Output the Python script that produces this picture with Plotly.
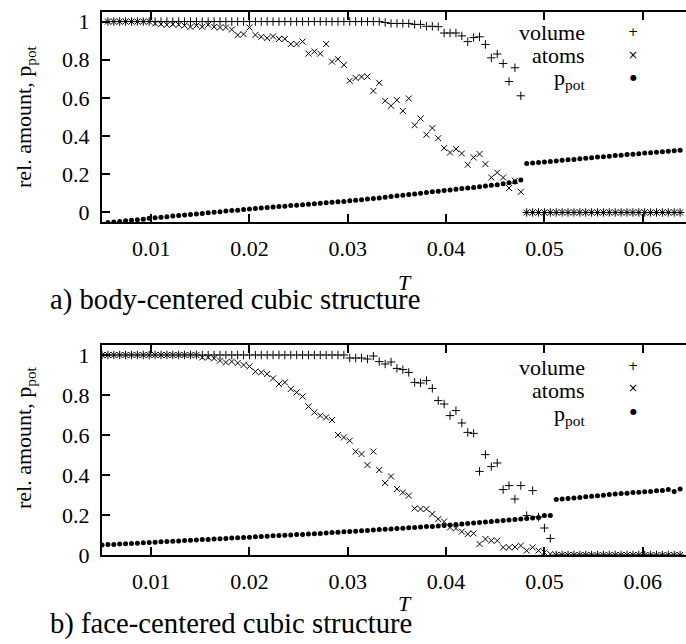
import plotly.graph_objects as go

# Temperature grid (x values)
T_grid = [
    0.0050, 0.0056, 0.0062, 0.0068, 0.0074, 0.0080, 0.0086, 0.0092, 0.0098, 0.0104,
    0.0110, 0.0116, 0.0122, 0.0128, 0.0134, 0.0140, 0.0146, 0.0152, 0.0158, 0.0164,
    0.0170, 0.0176, 0.0182, 0.0188, 0.0194, 0.0200, 0.0206, 0.0212, 0.0218, 0.0224,
    0.0230, 0.0236, 0.0242, 0.0248, 0.0254, 0.0260, 0.0266, 0.0272, 0.0278, 0.0284,
    0.0290, 0.0296, 0.0302, 0.0308, 0.0314, 0.0320, 0.0326, 0.0332, 0.0338, 0.0344,
    0.0350, 0.0356, 0.0362, 0.0368, 0.0374, 0.0380, 0.0386, 0.0392, 0.0398, 0.0404,
    0.0410, 0.0416, 0.0422, 0.0428, 0.0434, 0.0440, 0.0446, 0.0452, 0.0458, 0.0464,
    0.0470, 0.0476, 0.0482, 0.0488, 0.0494, 0.0500, 0.0506, 0.0512, 0.0518, 0.0524,
    0.0530, 0.0536, 0.0542, 0.0548, 0.0554, 0.0560, 0.0566, 0.0572, 0.0578, 0.0584,
    0.0590, 0.0596, 0.0602, 0.0608, 0.0614, 0.0620, 0.0626, 0.0632, 0.0638,
]
T_bcc = T_grid[1:]
T_fcc = T_grid

# a) body-centered cubic
volume_bcc = [1.0] * 47 + [
    0.995, 0.99, 0.99, 0.99, 0.99, 0.985, 0.985, 0.975, 0.975, 0.973,
    0.94, 0.94, 0.94, 0.925, 0.895, 0.916, 0.92, 0.88, 0.81, 0.83,
    0.78, 0.686, 0.758, 0.611,
] + [0.0] * 27
atoms_bcc = [1.0] * 8 + [
    0.990, 0.986, 0.983, 0.986, 0.983, 0.979, 0.972, 0.979, 0.972, 0.983,
    0.972, 0.969, 0.969, 0.958, 0.929, 0.934, 0.969, 0.930, 0.920, 0.913,
    0.922, 0.909, 0.909, 0.882, 0.882, 0.895, 0.832, 0.843, 0.832, 0.882,
    0.790, 0.803, 0.773, 0.690, 0.704, 0.710, 0.712, 0.637, 0.679, 0.585,
    0.559, 0.588, 0.532, 0.597, 0.457, 0.492, 0.407, 0.442, 0.389, 0.337,
    0.314, 0.332, 0.309, 0.250, 0.288, 0.306, 0.253, 0.183, 0.209, 0.183,
    0.128, 0.166, 0.108,
] + [0.0] * 27
ppot_bcc = [
    -0.053, -0.050, -0.047, -0.044, -0.041, -0.038, -0.035, -0.031, -0.028, -0.025,
    -0.022, -0.019, -0.016, -0.013, -0.011, -0.008, -0.005, -0.002, 0.001, 0.004,
    0.007, 0.010, 0.012, 0.015, 0.018, 0.021, 0.023, 0.026, 0.028, 0.031,
    0.033, 0.036, 0.038, 0.041, 0.043, 0.046, 0.048, 0.051, 0.053, 0.056,
    0.058, 0.061, 0.064, 0.067, 0.070, 0.073, 0.076, 0.080, 0.083, 0.087,
    0.090, 0.094, 0.097, 0.101, 0.104, 0.108, 0.111, 0.115, 0.118, 0.122,
    0.125, 0.128, 0.131, 0.135, 0.138, 0.142, 0.145, 0.150, 0.155, 0.160,
    0.170,
    0.256, 0.259, 0.262, 0.264, 0.267, 0.270, 0.273, 0.276, 0.278, 0.281,
    0.284, 0.287, 0.290, 0.292, 0.295, 0.298, 0.300, 0.303, 0.305, 0.308,
    0.311, 0.313, 0.316, 0.318, 0.321, 0.323, 0.326,
]

# b) face-centered cubic
volume_fcc = [1.0] * 42 + [
    0.985, 0.985, 0.985, 0.98, 0.995, 0.967, 0.955, 0.965, 0.933, 0.927,
    0.913, 0.863, 0.86, 0.872, 0.833, 0.772, 0.755, 0.697, 0.722, 0.66,
    0.613, 0.608, 0.418, 0.502, 0.442, 0.46, 0.327, 0.347, 0.28, 0.347,
    0.197, 0.322, 0.19, 0.135, 0.083,
] + [0.0] * 22
atoms_fcc = [1.0] * 17 + [
    0.988, 0.988, 0.983, 0.972, 0.963, 0.967, 0.960, 0.950, 0.943, 0.917,
    0.913, 0.905, 0.883, 0.855, 0.863, 0.830, 0.813, 0.793, 0.743, 0.713,
    0.697, 0.688, 0.675, 0.600, 0.588, 0.572, 0.517, 0.505, 0.450, 0.517,
    0.425, 0.360, 0.393, 0.330, 0.313, 0.297, 0.233, 0.230, 0.230, 0.205,
    0.180, 0.167, 0.138, 0.133, 0.117, 0.105, 0.108, 0.055, 0.080, 0.072,
    0.072, 0.038, 0.038, 0.040, 0.047, 0.022, 0.038, 0.022, 0.013, 0.005,
] + [0.0] * 22
ppot_fcc = [
    0.050, 0.052, 0.053, 0.055, 0.056, 0.058, 0.059, 0.061, 0.063, 0.064,
    0.066, 0.067, 0.069, 0.070, 0.072, 0.074, 0.075, 0.077, 0.078, 0.080,
    0.081, 0.083, 0.085, 0.086, 0.088, 0.089, 0.091, 0.092, 0.094, 0.096,
    0.097, 0.099, 0.100, 0.102, 0.103, 0.105, 0.106, 0.108,
    0.110, 0.112, 0.114, 0.116, 0.117, 0.119, 0.121, 0.123, 0.125, 0.127,
    0.129, 0.130, 0.132, 0.134, 0.136, 0.138, 0.140, 0.142, 0.143, 0.145,
    0.147,
    0.150, 0.152, 0.155, 0.157, 0.160, 0.162, 0.165, 0.167, 0.170, 0.172,
    0.175, 0.177, 0.180, 0.183, 0.185, 0.187, 0.197, 0.197,
    0.277, 0.280, 0.282, 0.285, 0.288, 0.291, 0.294, 0.296, 0.299, 0.302,
    0.305, 0.307, 0.309, 0.312, 0.314, 0.316, 0.318, 0.321, 0.323, 0.327,
    0.318, 0.330,
]

x_ticks = [0.01, 0.02, 0.03, 0.04, 0.05, 0.06]
x_ticklabels = ["0.01", "0.02", "0.03", "0.04", "0.05", "0.06"]
y_ticks = [0, 0.2, 0.4, 0.6, 0.8, 1]
y_ticklabels = ["0", "0.2", "0.4", "0.6", "0.8", "1"]

FONT = "Liberation Serif"
W, H = 686, 644
ML, MR, MT, MB = 102, 0, 12, 89
PW, PH = W - ML - MR, H - MT - MB


def px(xp):
    return (xp - ML) / PW


def py(yp):
    return (H - MB - yp) / PH


fig = go.Figure()


def add_panel(T, vol, atm, pp, xa, ya):
    fig.add_trace(go.Scatter(x=T, y=vol, mode="markers", xaxis=xa, yaxis=ya,
                             marker=dict(symbol="cross-thin", size=6, color="black",
                                         line=dict(width=1, color="black")),
                             showlegend=False, name="volume"))
    fig.add_trace(go.Scatter(x=T, y=atm, mode="markers", xaxis=xa, yaxis=ya,
                             marker=dict(symbol="x-thin", size=6, color="black",
                                         line=dict(width=1, color="black")),
                             showlegend=False, name="atoms"))
    fig.add_trace(go.Scatter(x=T, y=pp, mode="markers", xaxis=xa, yaxis=ya,
                             marker=dict(symbol="circle", size=5, color="black",
                                         line=dict(width=0)),
                             showlegend=False, name="p_pot"))


add_panel(T_bcc, volume_bcc, atoms_bcc, ppot_bcc, "x", "y")
add_panel(T_fcc, volume_fcc, atoms_fcc, ppot_fcc, "x2", "y2")

xax = dict(range=[0.005, 0.0644], tickvals=x_ticks, ticktext=x_ticklabels,
           ticks="inside", ticklen=8, tickwidth=1.5, tickcolor="black",
           showline=True, linecolor="black", linewidth=2, mirror="ticks",
           showgrid=False, zeroline=False, ticklabelstandoff=6,
           tickfont=dict(family=FONT, size=22, color="black"))
yax = dict(tickvals=y_ticks, ticktext=y_ticklabels,
           ticks="inside", ticklen=8, tickwidth=1.5, tickcolor="black",
           showline=True, linecolor="black", linewidth=2, mirror=False,
           showgrid=False, zeroline=False, ticklabelstandoff=6,
           tickfont=dict(family=FONT, size=22, color="black"))

top_bottom = py(222)
bot_top = py(345)

fig.update_layout(
    width=W, height=H,
    margin=dict(l=ML, r=MR, t=MT, b=MB),
    paper_bgcolor="white", plot_bgcolor="white",
    font=dict(family=FONT, color="black"),
    xaxis=dict(xax, anchor="y", domain=[0, 1]),
    yaxis=dict(yax, anchor="x", domain=[top_bottom, 1], range=[-0.05, 1.05]),
    xaxis2=dict(xax, anchor="y2", domain=[0, 1]),
    yaxis2=dict(yax, anchor="x2", domain=[0, bot_top], range=[0, 1.05]),
    showlegend=False,
)

ann = []


def text(x, y, s, size=22, xanchor="center", angle=0, italic=False, fam=FONT):
    f = dict(family=fam, size=size, color="black")
    if italic:
        f["style"] = "italic"
    ann.append(dict(x=x, y=y, xref="paper", yref="paper", text=s, showarrow=False,
                    xanchor=xanchor, yanchor="middle", textangle=angle, font=f))


# axis titles and captions
text(px(405), py(283), "T", size=22, italic=True)
text(px(48), py(299), "a) body-centered cubic structure", size=28.7, xanchor="left")
text(px(405), py(603), "T", size=22, italic=True)
text(px(48), py(623), "b) face-centered cubic structure", size=28.7, xanchor="left")
text(px(25), py(117), "rel. amount, p<sub>pot</sub>", size=22, angle=-90)
text(px(25), py(438), "rel. amount, p<sub>pot</sub>", size=22, angle=-90)

# keys
for (yv, ya, yp), (mv, ma, mp) in [((32, 55, 79), (32, 55, 77)),
                                   ((367, 390, 415), (366, 388, 411))]:
    text(px(587), py(yv), "volume", xanchor="right")
    text(px(587), py(ya), "atoms", xanchor="right")
    text(px(587), py(yp), "p<sub>pot</sub>", xanchor="right")
    text(px(633), py(mv), "+", size=12, fam="DejaVu Sans")
    text(px(633), py(ma), "×", size=12, fam="DejaVu Sans")
    text(px(633), py(mp), "●", size=8, fam="DejaVu Sans")

fig.update_layout(annotations=ann)
fig.write_html("out.html")
